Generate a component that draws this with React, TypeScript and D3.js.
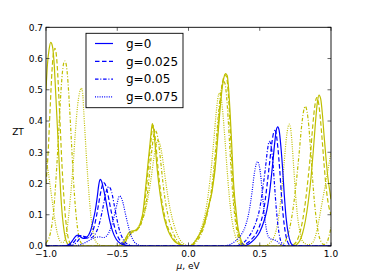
import React from "react";
import * as d3 from "d3";

type P = [number, number];

const gLabels = ["g=0", "g=0.025", "g=0.05", "g=0.075"];
const muTicks = [-1.0, -0.5, 0.0, 0.5, 1.0];
const ztTicks = [0.0, 0.1, 0.2, 0.3, 0.4, 0.5, 0.6, 0.7];

// blue family, g = 0
const blueG0: P[] = [
  [-1.0, 0], [-0.88, 0], [-0.85, 0.002], [-0.83, 0.008], [-0.81, 0.02], [-0.79, 0.032], [-0.775, 0.035],
  [-0.76, 0.031], [-0.745, 0.025], [-0.73, 0.024], [-0.715, 0.028], [-0.7, 0.036], [-0.685, 0.052],
  [-0.67, 0.08], [-0.655, 0.112], [-0.64, 0.158], [-0.63, 0.195], [-0.62, 0.213], [-0.61, 0.207],
  [-0.6, 0.19], [-0.585, 0.158], [-0.57, 0.12], [-0.555, 0.085], [-0.54, 0.058], [-0.525, 0.038],
  [-0.505, 0.02], [-0.48, 0.009], [-0.45, 0.003], [-0.42, 0.001], [-0.39, 0],
  [0.38, 0], [0.41, 0.003], [0.44, 0.012], [0.47, 0.025], [0.5, 0.045], [0.53, 0.08], [0.55, 0.115],
  [0.57, 0.175], [0.59, 0.26], [0.605, 0.33], [0.615, 0.368], [0.626, 0.381], [0.636, 0.37],
  [0.648, 0.32], [0.66, 0.25], [0.672, 0.165], [0.685, 0.09], [0.7, 0.04], [0.715, 0.013],
  [0.73, 0.003], [0.75, 0], [1.0, 0],
];
// blue family, g = 0.025
const blueG1: P[] = [
  [-1.0, 0], [-0.86, 0], [-0.83, 0.003], [-0.805, 0.012], [-0.78, 0.027], [-0.76, 0.033], [-0.74, 0.03],
  [-0.72, 0.025], [-0.7, 0.027], [-0.685, 0.035], [-0.67, 0.05], [-0.655, 0.075], [-0.64, 0.11],
  [-0.625, 0.15], [-0.61, 0.185], [-0.595, 0.203], [-0.585, 0.198], [-0.57, 0.175], [-0.555, 0.14],
  [-0.54, 0.105], [-0.525, 0.072], [-0.51, 0.047], [-0.49, 0.025], [-0.465, 0.01], [-0.43, 0.003],
  [-0.4, 0],
  [0.36, 0], [0.39, 0.004], [0.42, 0.012], [0.45, 0.025], [0.48, 0.045], [0.51, 0.08], [0.53, 0.12],
  [0.55, 0.19], [0.57, 0.27], [0.585, 0.33], [0.597, 0.362], [0.605, 0.37], [0.615, 0.36],
  [0.627, 0.315], [0.64, 0.245], [0.652, 0.165], [0.665, 0.095], [0.68, 0.042], [0.695, 0.014],
  [0.71, 0.003], [0.73, 0], [1.0, 0],
];
// blue family, g = 0.05
const blueG2: P[] = [
  [-1.0, 0], [-0.84, 0], [-0.81, 0.003], [-0.785, 0.012], [-0.76, 0.025], [-0.735, 0.031], [-0.71, 0.028],
  [-0.69, 0.026], [-0.67, 0.03], [-0.65, 0.042], [-0.635, 0.058], [-0.62, 0.082], [-0.605, 0.112],
  [-0.59, 0.148], [-0.575, 0.178], [-0.56, 0.19], [-0.547, 0.183], [-0.533, 0.16], [-0.52, 0.128],
  [-0.505, 0.092], [-0.49, 0.06], [-0.47, 0.032], [-0.45, 0.015], [-0.42, 0.004], [-0.38, 0],
  [0.33, 0], [0.36, 0.004], [0.39, 0.012], [0.42, 0.028], [0.45, 0.05], [0.48, 0.085], [0.5, 0.12],
  [0.52, 0.18], [0.54, 0.25], [0.555, 0.31], [0.567, 0.335], [0.578, 0.325], [0.59, 0.28],
  [0.603, 0.2], [0.615, 0.125], [0.628, 0.065], [0.642, 0.025], [0.66, 0.006], [0.68, 0], [1.0, 0],
];
// blue family, g = 0.075
const blueG3: P[] = [
  [-1.0, 0], [-0.8, 0], [-0.76, 0.004], [-0.72, 0.012], [-0.68, 0.022], [-0.65, 0.028], [-0.62, 0.029],
  [-0.6, 0.027], [-0.58, 0.03], [-0.56, 0.042], [-0.545, 0.058], [-0.53, 0.08], [-0.515, 0.108],
  [-0.5, 0.138], [-0.485, 0.16], [-0.472, 0.155], [-0.458, 0.135], [-0.445, 0.108], [-0.43, 0.078],
  [-0.415, 0.05], [-0.4, 0.03], [-0.38, 0.013], [-0.355, 0.004], [-0.32, 0],
  [0.25, 0], [0.29, 0.005], [0.33, 0.016], [0.37, 0.036], [0.4, 0.065], [0.425, 0.11], [0.445, 0.17],
  [0.463, 0.235], [0.475, 0.262], [0.485, 0.27], [0.495, 0.26], [0.508, 0.22], [0.52, 0.16],
  [0.533, 0.1], [0.546, 0.055], [0.56, 0.03], [0.58, 0.022], [0.6, 0.02], [0.62, 0.015],
  [0.645, 0.006], [0.67, 0], [1.0, 0],
];

// yellow family, g = 0
const yellowG0: P[] = [
  [-1.0, 0.5], [-0.99, 0.58], [-0.978, 0.63], [-0.967, 0.652], [-0.955, 0.64], [-0.943, 0.585],
  [-0.932, 0.49], [-0.92, 0.38], [-0.908, 0.27], [-0.897, 0.17], [-0.885, 0.095], [-0.872, 0.045],
  [-0.86, 0.018], [-0.845, 0.005], [-0.83, 0.001], [-0.81, 0],
  [-0.48, 0], [-0.465, 0.004], [-0.45, 0.015], [-0.435, 0.03], [-0.42, 0.042], [-0.4, 0.048],
  [-0.38, 0.049], [-0.364, 0.053], [-0.35, 0.06], [-0.34, 0.07], [-0.33, 0.087], [-0.321, 0.104],
  [-0.305, 0.168], [-0.289, 0.243], [-0.27, 0.328], [-0.262, 0.365], [-0.254, 0.392], [-0.245, 0.375],
  [-0.235, 0.328], [-0.219, 0.243], [-0.2, 0.168], [-0.177, 0.104], [-0.16, 0.072], [-0.142, 0.048],
  [-0.12, 0.028], [-0.1, 0.016], [-0.083, 0.01], [-0.06, 0.005], [-0.04, 0.002], [-0.02, 0], [0.0, 0],
  [0.015, 0.001], [0.03, 0.006], [0.05, 0.017], [0.065, 0.028], [0.081, 0.04], [0.1, 0.06],
  [0.115, 0.083], [0.128, 0.104], [0.145, 0.135], [0.163, 0.168], [0.175, 0.205], [0.186, 0.243],
  [0.202, 0.328], [0.221, 0.435], [0.235, 0.5], [0.248, 0.538], [0.261, 0.552], [0.272, 0.545],
  [0.282, 0.5], [0.291, 0.435], [0.303, 0.328], [0.314, 0.22], [0.323, 0.16], [0.333, 0.115],
  [0.345, 0.065], [0.361, 0.03], [0.375, 0.012], [0.39, 0.004], [0.41, 0],
  [0.74, 0], [0.76, 0.005], [0.78, 0.016], [0.8, 0.04], [0.82, 0.08], [0.84, 0.14], [0.86, 0.22],
  [0.875, 0.3], [0.89, 0.39], [0.903, 0.455], [0.916, 0.483], [0.928, 0.47], [0.94, 0.42],
  [0.952, 0.35], [0.965, 0.28], [0.978, 0.22], [0.99, 0.18], [1.0, 0.15],
];
// yellow family, g = 0.025
const yellowG1: P[] = [
  [-1.0, 0.2], [-0.985, 0.3], [-0.97, 0.45], [-0.958, 0.56], [-0.947, 0.62], [-0.937, 0.633],
  [-0.925, 0.6], [-0.912, 0.5], [-0.9, 0.38], [-0.888, 0.26], [-0.875, 0.16], [-0.862, 0.085],
  [-0.848, 0.035], [-0.835, 0.012], [-0.82, 0.003], [-0.8, 0],
  [-0.47, 0], [-0.455, 0.005], [-0.44, 0.016], [-0.425, 0.03], [-0.41, 0.04], [-0.39, 0.046],
  [-0.37, 0.048], [-0.355, 0.055], [-0.34, 0.067], [-0.328, 0.083], [-0.316, 0.104], [-0.3, 0.165],
  [-0.284, 0.24], [-0.266, 0.325], [-0.258, 0.362], [-0.25, 0.386], [-0.24, 0.372], [-0.23, 0.33],
  [-0.213, 0.245], [-0.195, 0.17], [-0.172, 0.106], [-0.155, 0.074], [-0.137, 0.05], [-0.115, 0.03],
  [-0.095, 0.017], [-0.075, 0.009], [-0.05, 0.003], [-0.025, 0], [0.005, 0], [0.02, 0.002],
  [0.035, 0.007], [0.055, 0.019], [0.075, 0.033], [0.095, 0.05], [0.112, 0.072], [0.125, 0.095],
  [0.142, 0.128], [0.158, 0.162], [0.17, 0.2], [0.182, 0.24], [0.198, 0.325], [0.216, 0.43],
  [0.23, 0.495], [0.244, 0.535], [0.257, 0.548], [0.268, 0.54], [0.278, 0.495], [0.287, 0.43],
  [0.298, 0.325], [0.309, 0.22], [0.318, 0.16], [0.328, 0.112], [0.34, 0.065], [0.355, 0.03],
  [0.37, 0.012], [0.385, 0.004], [0.4, 0],
  [0.72, 0], [0.74, 0.005], [0.76, 0.016], [0.78, 0.04], [0.8, 0.08], [0.82, 0.14], [0.84, 0.22],
  [0.857, 0.3], [0.873, 0.39], [0.887, 0.45], [0.9, 0.475], [0.912, 0.46], [0.925, 0.41],
  [0.938, 0.34], [0.95, 0.27], [0.963, 0.2], [0.976, 0.15], [0.988, 0.12], [1.0, 0.1],
];
// yellow family, g = 0.05
const yellowG2: P[] = [
  [-1.0, 0.01], [-0.97, 0.04], [-0.945, 0.12], [-0.925, 0.25], [-0.91, 0.37], [-0.897, 0.48],
  [-0.885, 0.555], [-0.876, 0.585], [-0.867, 0.592], [-0.856, 0.575], [-0.845, 0.52], [-0.833, 0.43],
  [-0.82, 0.32], [-0.807, 0.21], [-0.793, 0.12], [-0.778, 0.055], [-0.763, 0.02], [-0.745, 0.005],
  [-0.725, 0],
  [-0.47, 0], [-0.45, 0.008], [-0.43, 0.022], [-0.41, 0.036], [-0.39, 0.045], [-0.37, 0.05],
  [-0.35, 0.056], [-0.335, 0.068], [-0.32, 0.087], [-0.305, 0.115], [-0.29, 0.16], [-0.275, 0.225],
  [-0.26, 0.295], [-0.247, 0.345], [-0.235, 0.37], [-0.223, 0.362], [-0.21, 0.33], [-0.195, 0.27],
  [-0.18, 0.205], [-0.163, 0.145], [-0.145, 0.1], [-0.125, 0.065], [-0.105, 0.04], [-0.085, 0.022],
  [-0.065, 0.01], [-0.045, 0.004], [-0.02, 0.001], [0.0, 0], [0.02, 0.001], [0.04, 0.006],
  [0.06, 0.016], [0.08, 0.03], [0.1, 0.05], [0.12, 0.08], [0.14, 0.12], [0.158, 0.17], [0.175, 0.235],
  [0.192, 0.32], [0.208, 0.41], [0.222, 0.475], [0.235, 0.515], [0.245, 0.528], [0.256, 0.52],
  [0.267, 0.48], [0.278, 0.41], [0.29, 0.315], [0.302, 0.22], [0.313, 0.15], [0.325, 0.095],
  [0.338, 0.052], [0.352, 0.024], [0.367, 0.008], [0.385, 0.002], [0.4, 0],
  [0.64, 0], [0.66, 0.005], [0.68, 0.016], [0.7, 0.04], [0.72, 0.08], [0.74, 0.14], [0.76, 0.22],
  [0.777, 0.3], [0.793, 0.38], [0.807, 0.43], [0.82, 0.447], [0.832, 0.43], [0.845, 0.38],
  [0.858, 0.3], [0.87, 0.22], [0.883, 0.145], [0.897, 0.085], [0.912, 0.04], [0.93, 0.014],
  [0.95, 0.005], [0.97, 0.01], [0.985, 0.03], [1.0, 0.06],
];
// yellow family, g = 0.075
const yellowG3: P[] = [
  [-1.0, 0.28], [-0.985, 0.24], [-0.97, 0.19], [-0.955, 0.14], [-0.94, 0.09], [-0.925, 0.05],
  [-0.91, 0.024], [-0.895, 0.012], [-0.88, 0.012], [-0.865, 0.025], [-0.851, 0.058], [-0.838, 0.11],
  [-0.827, 0.164], [-0.808, 0.27], [-0.792, 0.377], [-0.778, 0.45], [-0.765, 0.49], [-0.752, 0.505],
  [-0.743, 0.49], [-0.735, 0.43], [-0.726, 0.36], [-0.717, 0.29], [-0.707, 0.22], [-0.698, 0.164],
  [-0.686, 0.1], [-0.675, 0.058], [-0.66, 0.025], [-0.64, 0.008], [-0.615, 0.002], [-0.59, 0],
  [-0.5, 0], [-0.48, 0.005], [-0.46, 0.014], [-0.44, 0.025], [-0.42, 0.035], [-0.4, 0.042],
  [-0.38, 0.048], [-0.36, 0.056], [-0.34, 0.07], [-0.32, 0.09], [-0.3, 0.12], [-0.28, 0.165],
  [-0.26, 0.225], [-0.245, 0.275], [-0.23, 0.318], [-0.215, 0.338], [-0.2, 0.325], [-0.185, 0.29],
  [-0.17, 0.24], [-0.155, 0.19], [-0.14, 0.145], [-0.12, 0.1], [-0.1, 0.065], [-0.08, 0.038],
  [-0.06, 0.02], [-0.04, 0.009], [-0.02, 0.003], [0.0, 0.001], [0.02, 0.004], [0.04, 0.012],
  [0.06, 0.026], [0.08, 0.045], [0.1, 0.072], [0.12, 0.11], [0.14, 0.17], [0.16, 0.25],
  [0.178, 0.34], [0.193, 0.42], [0.205, 0.47], [0.217, 0.49], [0.229, 0.475], [0.242, 0.42],
  [0.256, 0.34], [0.27, 0.25], [0.285, 0.165], [0.3, 0.1], [0.316, 0.055], [0.333, 0.026],
  [0.35, 0.01], [0.37, 0.003], [0.39, 0],
  [0.53, 0], [0.56, 0.006], [0.59, 0.02], [0.615, 0.05], [0.635, 0.1], [0.655, 0.18], [0.672, 0.27],
  [0.688, 0.35], [0.698, 0.38], [0.707, 0.39], [0.717, 0.375], [0.728, 0.32], [0.74, 0.24],
  [0.752, 0.16], [0.765, 0.095], [0.78, 0.05], [0.8, 0.015], [0.84, 0.004], [0.87, 0.01],
  [0.89, 0.03], [0.91, 0.07], [0.93, 0.12], [0.95, 0.17], [0.97, 0.22], [0.985, 0.26], [1.0, 0.3],
];

const blueSeries = [blueG0, blueG1, blueG2, blueG3];
const yellowSeries = [yellowG0, yellowG1, yellowG2, yellowG3];
const dashes = ["none", "4.5,2.5", "3.5,1.8,1,1.8", "1,1.3"];
const BLUE = "#0000ff";
const YELLOW = "#bfbf00";

const W = 368;
const H = 275;
const L = 46, R = 331, T = 27.3, B = 246;
const FONT = "'DejaVu Sans', 'Bitstream Vera Sans', sans-serif";

export default function App() {
  const x = d3.scaleLinear().domain([-1, 1]).range([L, R]);
  const y = d3.scaleLinear().domain([0, 0.7]).range([B, T]);
  const line = d3
    .line<P>()
    .x((d) => x(d[0]))
    .y((d) => y(d[1]))
    .curve(d3.curveMonotoneX);
  const tk = 3.5;

  return (
    <svg
      width={W}
      height={H}
      viewBox={`0 0 ${W} ${H}`}
      style={{ position: "fixed", left: 0, top: 0, background: "#fff" }}
      fontFamily={FONT}
    >
      <rect x={0} y={0} width={W} height={H} fill="#fff" />
      <defs>
        <clipPath id="plotclip">
          <rect x={L} y={T} width={R - L} height={B - T} />
        </clipPath>
      </defs>
      <g clipPath="url(#plotclip)">
        {yellowSeries.map((s, i) => (
          <path key={"y" + i} d={line(s) || ""} fill="none" stroke={YELLOW} strokeWidth={1.2}
            strokeDasharray={dashes[i]} />
        ))}
        {blueSeries.map((s, i) => (
          <path key={"b" + i} d={line(s) || ""} fill="none" stroke={BLUE} strokeWidth={1.2}
            strokeDasharray={dashes[i]} />
        ))}
      </g>
      {/* frame */}
      <rect x={L} y={T} width={R - L} height={B - T} fill="none" stroke="#000" strokeWidth={0.9} />
      {/* x ticks */}
      {muTicks.map((t) => (
        <g key={"xt" + t}>
          <line x1={x(t)} x2={x(t)} y1={B} y2={B - tk} stroke="#000" strokeWidth={0.6} />
          <line x1={x(t)} x2={x(t)} y1={T} y2={T + tk} stroke="#000" strokeWidth={0.6} />
          <text x={x(t)} y={257} fontSize={9} textAnchor="middle" fill="#000">
            {d3.format(".1f")(t).replace("-", "\u2212")}
          </text>
        </g>
      ))}
      {/* y ticks */}
      {ztTicks.map((t) => (
        <g key={"yt" + t}>
          <line x1={L} x2={L + tk} y1={y(t)} y2={y(t)} stroke="#000" strokeWidth={0.6} />
          <line x1={R} x2={R - tk} y1={y(t)} y2={y(t)} stroke="#000" strokeWidth={0.6} />
          <text x={43} y={y(t) + 3.3} fontSize={9} textAnchor="end" fill="#000">
            {d3.format(".1f")(t)}
          </text>
        </g>
      ))}
      {/* axis labels */}
      <text x={18} y={135} fontSize={9} textAnchor="middle" fill="#000">ZT</text>
      <text x={188} y={268.5} fontSize={9} textAnchor="middle" fill="#000">
        <tspan fontStyle="italic">μ</tspan>, eV
      </text>
      {/* legend */}
      <rect x={86} y={33.3} width={97} height={74.4} fill="#fff" stroke="#000" strokeWidth={0.9} />
      {gLabels.map((lab, i) => {
        const ry = 43.5 + i * 17.8;
        return (
          <g key={lab}>
            <line x1={95} x2={113} y1={ry} y2={ry} stroke={BLUE} strokeWidth={1.2}
              strokeDasharray={dashes[i]} />
            <text x={126} y={ry + 4.3} fontSize={12} fill="#000">{lab}</text>
          </g>
        );
      })}
    </svg>
  );
}
